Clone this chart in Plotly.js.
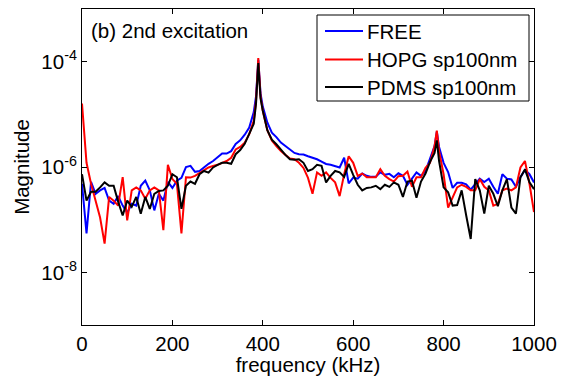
<!DOCTYPE html>
<html>
<head>
<meta charset="utf-8">
<script src="https://cdn.plot.ly/plotly-3.0.1.min.js"></script>
<style>html,body{margin:0;padding:0;background:#fff;}#chart{width:566px;height:376px;}</style>
</head>
<body>
<div id="chart"></div>
<script>
// frequency (kHz)
var freq = [0,10,20,30,40,50,60,70,80,90,100,110,120,130,140,150,160,170,180,190,200,210,220,230,240,250,260,270,280,290,300,310,320,330,340,350,360,370,380,385,390,395,400,410,420,430,440,450,460,470,480,490,500,510,520,530,540,550,560,570,580,590,600,610,620,630,640,650,660,670,680,690,700,710,720,730,740,750,760,770,780,785,790,800,810,820,830,840,850,860,870,880,890,900,910,920,930,940,950,960,970,980,990,1000];

var freeMag = [4.8e-7,5.5e-8,5.2e-7,3.1e-7,3.6e-7,4.0e-7,2.3e-7,2.0e-7,2.8e-7,1.85e-7,1.35e-7,2.0e-7,1.85e-7,4.4e-7,5.5e-7,3.6e-7,1.5e-7,3.1e-7,2.3e-7,5.2e-7,4.0e-7,5.5e-7,6.2e-7,1.0e-6,1.05e-6,8.1e-7,8.4e-7,1.0e-6,1.15e-6,1.3e-6,1.5e-6,1.8e-6,1.8e-6,2.0e-6,2.75e-6,3.2e-6,4.1e-6,5.6e-6,1.1e-5,2.2e-5,1.08e-4,2.5e-5,1.4e-5,7.0e-6,4.5e-6,3.7e-6,2.9e-6,2.5e-6,2.1e-6,1.85e-6,1.75e-6,1.72e-6,1.6e-6,1.5e-6,1.4e-6,1.27e-6,1.14e-6,1.1e-6,1.03e-6,9.8e-7,1.5e-6,4.9e-7,6.3e-7,6.0e-7,7.5e-7,6.8e-7,6.5e-7,6.5e-7,7.9e-7,7.1e-7,7.4e-7,6.4e-7,7.6e-7,6.8e-7,4.6e-7,6.0e-7,7.9e-7,6.8e-7,8.4e-7,1.45e-6,2.5e-6,4.7e-6,2.4e-6,1.2e-6,8.0e-7,4.0e-7,5.0e-7,5.0e-7,4.7e-7,3.7e-7,4.6e-7,6.0e-7,5.2e-7,6.0e-7,4.2e-7,3.1e-7,7.3e-7,6.0e-7,5.8e-7,4.2e-7,6.4e-7,8.8e-7,7.3e-7,5.1e-7];

var hopgMag = [1.6e-5,1.2e-6,4.8e-7,2.2e-7,1.1e-7,3.5e-8,2.7e-7,2.3e-7,1.85e-7,6.4e-7,9.7e-8,3.6e-7,4.1e-7,3.6e-7,2.5e-7,3.6e-7,4.1e-7,3.6e-7,6.3e-8,1.1e-6,5.9e-7,4.8e-7,5.5e-8,6.4e-7,6.3e-7,6.8e-7,7.7e-7,8.4e-7,9.8e-7,1.05e-6,1.1e-6,1.2e-6,1.3e-6,1.5e-6,2.15e-6,2.4e-6,2.9e-6,4.2e-6,7.5e-6,1.8e-5,1.17e-4,2.2e-5,1.17e-5,5.0e-6,3.2e-6,2.5e-6,2.0e-6,1.7e-6,1.45e-6,1.4e-6,1.2e-6,9.6e-7,6.2e-7,3.1e-7,7.9e-7,6.8e-7,7.9e-7,6.2e-7,5.1e-7,2.8e-7,7.3e-7,1.6e-6,1.2e-6,6.8e-7,7.5e-7,6.4e-7,6.5e-7,6.4e-7,9.1e-7,6.8e-7,5.9e-7,5.3e-7,6.7e-7,6.8e-7,8.2e-7,4.2e-7,6.4e-7,6.4e-7,9.6e-7,1.2e-6,2.5e-6,4.9e-6,2.0e-6,7.3e-7,1.7e-7,2.65e-7,4.1e-7,4.6e-7,4.2e-7,3.6e-7,3.6e-7,5.9e-7,4.2e-7,3.6e-7,1.85e-7,2.0e-7,3.6e-7,3.9e-7,3.6e-7,4.1e-7,9.8e-7,1.3e-6,4.8e-7,1.4e-7];

var pdmsMag = [7.3e-7,2.3e-7,3.4e-7,3.4e-7,4.1e-7,5.1e-7,4.4e-7,4.4e-7,2.2e-7,1.2e-7,2.3e-7,1.75e-7,2.7e-7,1.3e-7,2.7e-7,1.6e-7,3.1e-7,3.5e-7,3.6e-7,4.4e-7,7.3e-7,6.4e-7,1.6e-7,4.4e-7,5.3e-7,4.8e-7,7.3e-7,8.4e-7,7.8e-7,9.8e-7,1.1e-6,1.2e-6,1.2e-6,1.15e-6,1.75e-6,2.1e-6,2.75e-6,4.2e-6,6.6e-6,1.6e-5,9.4e-5,2.0e-5,1.17e-5,5.0e-6,3.3e-6,2.7e-6,2.1e-6,1.7e-6,1.4e-6,1.37e-6,1.4e-6,1.2e-6,8.4e-7,9.1e-7,1.1e-6,1.05e-6,5.1e-7,6.8e-7,8.4e-7,7.9e-7,6.5e-7,1.15e-6,7.1e-7,4.6e-7,3.6e-7,4.0e-7,4.1e-7,4.4e-7,3.8e-7,4.6e-7,4.2e-7,5.1e-7,4.6e-7,2.7e-7,5.3e-7,5.5e-7,2.6e-7,5.3e-7,7.5e-7,1.25e-6,1.85e-6,3.2e-6,1.3e-6,4.1e-7,3.3e-7,1.85e-7,1.9e-7,3.6e-7,1.2e-7,4.3e-8,5.9e-7,3.6e-7,1.3e-7,4.4e-7,3.1e-7,1.8e-7,3.6e-7,5.9e-7,1.7e-7,1.3e-7,6.4e-7,9.0e-7,5.1e-7,3.8e-7];

var seriesNames = ['FREE', 'HOPG sp100nm', 'PDMS sp100nm'];
var xTickVals = [0, 200, 400, 600, 800, 1000];
var yTickVals = [1e-8, 1e-6, 1e-4];
var yTickText = ['10<sup>-8</sup>', '10<sup>-6</sup>', '10<sup>-4</sup>'];

var FONT = 'Liberation Sans, Arial, sans-serif';
var FS = 20.5;
var colors = ['#0000ff', '#ff0000', '#000000'];
var ys = [freeMag, hopgMag, pdmsMag];

var traces = ys.map(function (y, i) {
  return {
    x: freq, y: y, type: 'scatter', mode: 'lines', name: seriesNames[i],
    line: {color: colors[i], width: 2}, showlegend: false
  };
});

// plot-area geometry (px) used only to place the legend box in paper coords
var L = 82, T = 9, W = 452, H = 316;
function px(x) { return (x - L) / W; }
function py(y) { return 1 - (y - T) / H; }

var shapes = [{
  type: 'rect', xref: 'paper', yref: 'paper',
  x0: px(317), x1: px(529), y0: py(101), y1: py(15),
  line: {color: '#000', width: 1}, fillcolor: '#fff', layer: 'above'
}];
var annotations = [{
  xref: 'paper', yref: 'paper', x: px(89), y: py(30), xanchor: 'left', yanchor: 'middle',
  text: '(b) 2nd excitation', showarrow: false,
  font: {family: FONT, size: FS, color: '#000'}
}];
var legendY = [31, 59.5, 87];
seriesNames.forEach(function (nm, i) {
  shapes.push({
    type: 'line', xref: 'paper', yref: 'paper',
    x0: px(325), x1: px(363), y0: py(legendY[i]), y1: py(legendY[i]),
    line: {color: colors[i], width: 2}, layer: 'above'
  });
  annotations.push({
    xref: 'paper', yref: 'paper', x: px(365), y: py(legendY[i]),
    xanchor: 'left', yanchor: 'middle', text: nm, showarrow: false,
    font: {family: FONT, size: FS, color: '#000'}
  });
});

var layout = {
  width: 566, height: 376,
  margin: {l: 82, r: 32, t: 9, b: 51},
  paper_bgcolor: '#fff', plot_bgcolor: '#fff',
  font: {family: FONT, size: FS, color: '#000'},
  showlegend: false,
  xaxis: {
    range: [0, 1000], tickvals: xTickVals, ticks: 'inside', ticklen: 5,
    tickcolor: '#000', showline: true, mirror: 'ticks', linecolor: '#000', linewidth: 1,
    showgrid: false, zeroline: false,
    tickfont: {family: FONT, size: FS, color: '#000'},
    title: {text: 'frequency (kHz)', font: {family: FONT, size: FS, color: '#000'}, standoff: 2}
  },
  yaxis: {
    type: 'log', range: [-9, -3], tickvals: yTickVals, ticktext: yTickText,
    ticks: 'inside', ticklen: 5, tickcolor: '#000',
    showline: true, mirror: 'ticks', linecolor: '#000', linewidth: 1,
    showgrid: false, zeroline: false,
    tickfont: {family: FONT, size: FS, color: '#000'},
    title: {text: 'Magnitude', font: {family: FONT, size: FS, color: '#000'}, standoff: 6}
  },
  shapes: shapes,
  annotations: annotations
};

Plotly.newPlot('chart', traces, layout, {displayModeBar: false, staticPlot: true});
</script>
</body>
</html>
